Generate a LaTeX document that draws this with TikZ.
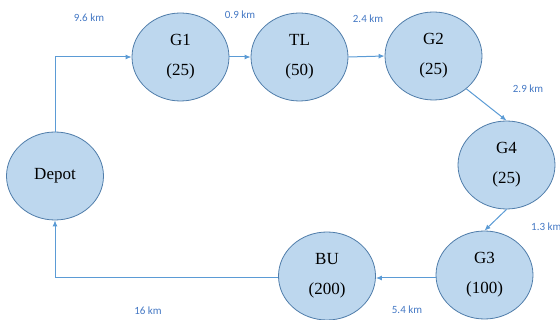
\documentclass[tikz,border=0pt]{standalone}
\usepackage{fontspec}
\setmainfont{Liberation Serif}
\newfontfamily\nodefont{Liberation Serif}
\newfontfamily\lblfont{Carlito}
\usetikzlibrary{shapes.geometric,arrows.meta}
\definecolor{nodefill}{RGB}{189,215,238}
\definecolor{nodeline}{RGB}{80,125,170}
\definecolor{arrowcol}{RGB}{91,155,213}
\definecolor{lblcol}{RGB}{68,120,196}
\tikzset{
  site/.style={ellipse, draw=nodeline, fill=nodefill, line width=0.8pt,
    minimum width=97pt, minimum height=88pt, inner sep=0pt, align=center,
    font=\nodefont\fontsize{17}{30}\selectfont},
  link/.style={draw=arrowcol, line width=1pt, -{Latex[length=6pt,width=5pt]}},
  dist/.style={text=lblcol, font=\lblfont\fontsize{11}{12}\selectfont, inner sep=0pt}
}
\begin{document}
\begin{tikzpicture}[x=1pt,y=-1pt]
\useasboundingbox (0,0) rectangle (560,320);
\node[site] (depot) at (55,176) {Depot};
\node[site] (g1) at (180.5,57) {G1\\(25)};
\node[site] (tl) at (299.5,57) {TL\\(50)};
\node[site] (g2) at (433.5,56) {G2\\(25)};
\node[site] (g4) at (506.5,165) {G4\\(25)};
\node[site] (g3) at (484.5,275) {G3\\(100)};
\node[site] (bu) at (327,276) {BU\\(200)};
\coordinate (c1) at (55,57);
\coordinate (c2) at (55,278);
\draw[link] (depot.north) -- (c1) -- (g1.west);
\draw[link] (g1.east) -- (tl.west);
\draw[link] (tl.east) -- (g2.west);
\draw[link] (g2.-45) -- (g4.north);
\draw[link] (g4.south) -- (g3.north);
\draw[link] (g3.west |- 0,278) -- (bu.east |- 0,278);
\draw[link] (bu.west |- 0,278) -- (c2) -- (depot.south);
\node[dist] (l1) at (89,18) {9.6 km};
\node[dist] (l2) at (240,15) {0.9 km};
\node[dist] (l3) at (368,19) {2.4 km};
\node[dist] (l4) at (528,89) {2.9 km};
\node[dist, anchor=west] (l5) at (531,227) {1.3 km};
\node[dist] (l6) at (407,310) {5.4 km};
\node[dist] (l7) at (148,311) {16 km};
\end{tikzpicture}
\end{document}
